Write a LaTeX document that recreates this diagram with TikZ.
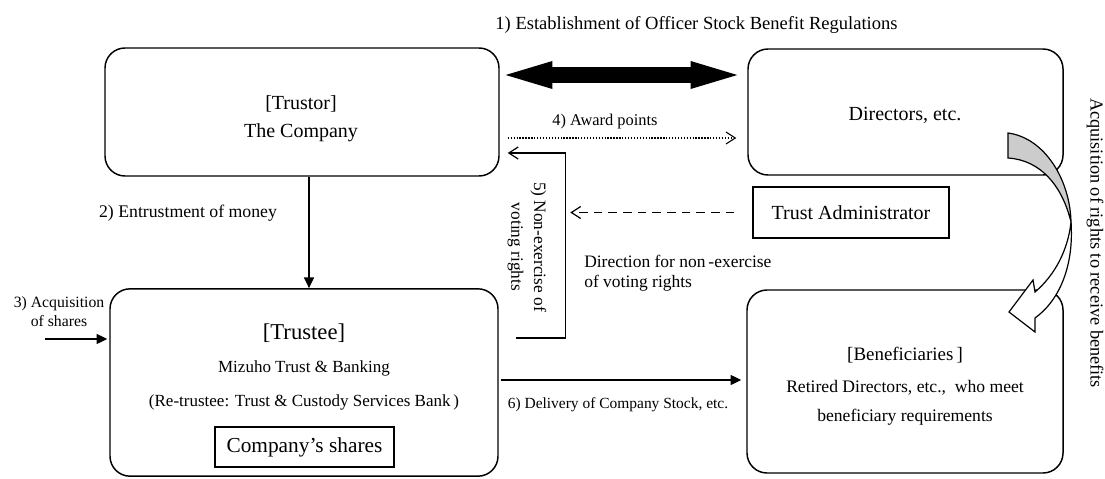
\documentclass[tikz,border=0pt]{standalone}
\usepackage{fontspec}
\setmainfont{Liberation Serif}
\usetikzlibrary{arrows.meta, calc}

\begin{document}
\begin{tikzpicture}[x=0.75pt, y=-0.75pt,
  panel/.style={draw, line width=1.1pt, rounded corners=15pt, inner sep=0pt},
  frame/.style={draw, line width=1.1pt, inner sep=0pt},
  txt/.style={inner sep=0pt, align=center},
  fillarr/.style={-{Triangle[length=8pt, width=7.5pt]}, line width=0.9pt},
  openarr/.style={-{Straight Barb[length=7pt, width=9pt]}, line width=0.9pt},
  blockarr/.style={{Triangle[length=35pt, width=21pt, line width=0pt]}-{Triangle[length=35pt, width=21pt, line width=0pt]}, line width=12pt}]
\useasboundingbox (0,0) rectangle (1105,478);
\node[panel, minimum width=295.5pt, minimum height=96pt] (trustor) at (302,112) {};
\node[panel, minimum width=236.25pt, minimum height=94.5pt] (dir) at (905.5,112) {};
\node[panel, minimum width=291pt, minimum height=140.5pt] (trustee) at (304,382.5) {};
\node[panel, minimum width=237pt, minimum height=137.25pt] (benef) at (905,381.5) {};
\node[frame, minimum width=147pt, minimum height=38.25pt, font=\fontsize{15}{18}\selectfont] (admin) at (851,212.5) {Trust Administrator};
\node[frame, minimum width=134.25pt, minimum height=30pt, font=\fontsize{16}{19}\selectfont] (shares) at (304.5,447) {Company’s shares};
\node[txt, font=\fontsize{15}{21}\selectfont] (trustortx) at (301,119) {[Trustor]\\The Company};
\node[txt, font=\fontsize{15}{18}\selectfont] (dirtx) at (905,115) {Directors, etc.};
\node[txt, font=\fontsize{17}{20}\selectfont] (trusteetx) at (304,333) {[Trustee]};
\node[txt, font=\fontsize{12.75}{25.5}\selectfont] (bank) at (304,385) {Mizuho Trust \& Banking\\(Re-trustee: Trust \& Custody Services Bank\,)};
\node[txt, font=\fontsize{14.2}{17}\selectfont] (beneftx) at (905,355) {[Beneficiaries\,]};
\node[txt, font=\fontsize{13.2}{21.75}\selectfont] (retired) at (905,402.5) {Retired Directors, etc.,\ \ who meet\\beneficiary requirements};
\node[txt, font=\fontsize{13.9}{16}\selectfont] (rules) at (696.5,25) {1) Establishment of Officer Stock Benefit Regulations};
\node[txt, font=\fontsize{12.3}{15}\selectfont] (award) at (605,122) {4) Award points};
\node[txt, font=\fontsize{13.3}{16}\selectfont] (money) at (188,213) {2) Entrustment of money};
\node[txt, font=\fontsize{11.8}{14.25}\selectfont] (buy) at (59,311.5) {3) Acquisition\\of shares};
\node[txt, font=\fontsize{11.6}{14}\selectfont] (deliver) at (618,405) {6) Delivery of Company Stock, etc.};
\node[txt, align=left, anchor=west, font=\fontsize{13.1}{15}\selectfont] (direct) at (584,273) {Direction for non\,-exercise\\of voting rights};
\node[txt, rotate=-90, font=\fontsize{13}{17}\selectfont] (nonvote) at (527,247) {5) Non-exercise of\\voting rights};
\node[txt, rotate=-90, font=\fontsize{13.7}{16}\selectfont] (rights) at (1095,243) {Acquisition of rights to receive benefits};
\coordinate (market) at (45,339);
\draw[blockarr] ($(trustor.east)+(6,-37)$) -- ($(dir.west)+(-10,-37)$);
\draw[openarr, line width=0.8pt, dash pattern=on 1pt off 1.2pt] ($(trustor.east)+(8,26)$) -- ($(dir.west)+(-11,26)$);
\draw[fillarr] ($(trustor.south)+(7,0)$) -- ($(trustee.north)+(5,0)$);
\draw[fillarr, shorten >=1.5pt] (market) -- (market -| trustee.west);
\draw[openarr] ($(trustee.east)+(17,-44.5)$) -| ($(trustor.east)+(66,41)$) -- ($(trustor.east)+(8,41)$);
\draw[openarr, dash pattern=on 6.5pt off 4.5pt] ($(admin.west)+(-18,0)$) -- ($(admin.west)+(-182,0)$);
\draw[fillarr] ($(trustee.east)+(2,-2.5)$) -- ($(benef.west)+(-5,-1.5)$);
\draw[line width=0.9pt, fill=black!20] (1008,133) .. controls (1045,138) and (1070,180) .. (1071,222) .. controls (1062,185) and (1040,160) .. (1008,158) -- cycle;
\draw[line width=0.9pt, fill=white] (1071,222) .. controls (1074,265) and (1060,300) .. (1035,318) -- (1035,332) -- (1009,312) -- (1033,280) -- (1035,292) .. controls (1055,275) and (1068,250) .. (1071,222) -- cycle;
\end{tikzpicture}
\end{document}
